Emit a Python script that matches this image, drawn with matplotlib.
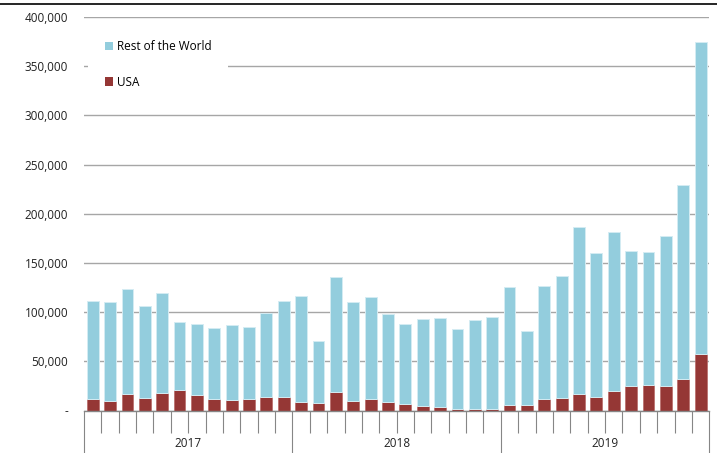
import matplotlib
matplotlib.use("Agg")
import matplotlib.pyplot as plt
import numpy as np
from matplotlib.lines import Line2D
from matplotlib.ticker import FuncFormatter, FixedLocator

plt.rcParams['font.family'] = ['Open Sans', 'DejaVu Sans']

# monthly totals and USA share, Jan 2017 - Dec 2019
years = ['2017', '2018', '2019']
total = [111300, 110200, 123700, 106200, 119100, 89600, 87900, 83800, 86900, 84800, 99400, 111300,
         116300, 70900, 135600, 110200, 115300, 98300, 87900, 92700, 93700, 82800, 91600, 95300,
         125200, 80800, 126800, 136700, 186400, 160000, 181700, 162400, 161400, 177000, 229400, 374400]
usa = [11400, 9300, 17100, 12400, 18100, 21100, 16000, 11400, 10400, 11400, 14000, 13400,
       8300, 7300, 19100, 9300, 11400, 8300, 6300, 4600, 3600, 1500, 1500, 1500,
       5600, 5600, 11400, 12400, 17100, 14000, 20100, 24900, 26200, 24900, 32000, 57400]

total = np.array(total)
usa = np.array(usa)
rest = total - usa
x = np.arange(len(total))

fs = 8.5
fig = plt.figure(figsize=(7.17, 4.53), dpi=100)
ax = fig.add_axes([84 / 717, 1 - 410.5 / 453, (709.3 - 84) / 717, (410.5 - 17) / 453])

blue = '#93CDDD'
red = '#953735'
ax.bar(x, usa, width=0.68, color=red, edgecolor='#B86A68', linewidth=0.5, label='USA', zorder=3)
ax.bar(x, rest, width=0.68, bottom=usa, color=blue, edgecolor='#D4ECF3', linewidth=0.7,
       label='Rest of the World', zorder=3)

ax.set_xlim(-0.5, len(total) - 0.5)
ax.set_ylim(0, 400000)
ax.set_yticks(np.arange(0, 400001, 50000))
ax.yaxis.set_major_formatter(FuncFormatter(lambda v, p: '-' if v == 0 else f'{v:,.0f}'))
ax.tick_params(axis='y', length=0, pad=11.5, labelsize=fs, labelcolor='#222222')
ax.grid(axis='y', color='#A6A6A6', linewidth=1.0, zorder=0)

for s in ['left', 'right', 'top']:
    ax.spines[s].set_visible(False)
ax.spines['bottom'].set_color('#868686')
ax.spines['bottom'].set_linewidth(1.0)
ax.spines['bottom'].set_zorder(4)

# two-level category axis: month separators and year separators
bounds = np.arange(-0.5, len(total), 1.0)
year_bounds = [-0.5, 11.5, 23.5, 35.5]
ax.xaxis.set_major_locator(FixedLocator(year_bounds))
ax.xaxis.set_minor_locator(FixedLocator([b for b in bounds if b not in year_bounds]))
ax.tick_params(axis='x', which='major', length=31, width=0.8, color='#868686', labelbottom=False)
ax.tick_params(axis='x', which='minor', length=15.5, width=0.8, color='#868686')

for i, yr in enumerate(years):
    ax.annotate(yr, xy=(i * 12 + 5.5, 0), xycoords=('data', 'axes fraction'),
                xytext=(0, -24), textcoords='offset points', ha='center', va='center',
                fontsize=fs, color='#222222')

leg = ax.legend(handles=[ax.containers[1], ax.containers[0]], loc='upper left',
                bbox_to_anchor=(0.0064, 0.983), fontsize=fs, frameon=True, fancybox=False,
                edgecolor='none', facecolor='white', framealpha=1, handlelength=0.7,
                handleheight=0.7, handletextpad=0.35, labelspacing=1.9, borderpad=1.4,
                borderaxespad=0)
for h in leg.legend_handles:
    h.set_linewidth(0)

fig.add_artist(Line2D([0, 1], [1 - 3.5 / 453] * 2, transform=fig.transFigure, color='black', lw=1.2))

fig.savefig('out.png', dpi=100)
